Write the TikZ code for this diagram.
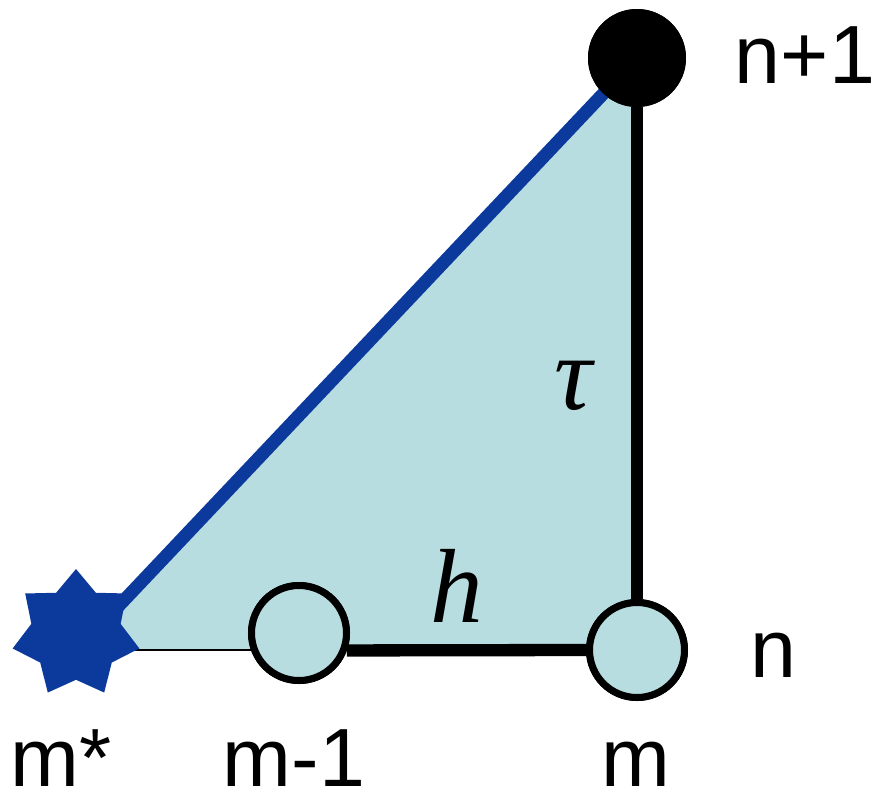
\documentclass[tikz,border=0pt]{standalone}
\usepackage{fontspec}
\setmainfont{Liberation Sans}
\newfontfamily\mathserif{Liberation Serif}
\usetikzlibrary{shapes.geometric}
\definecolor{fillblue}{RGB}{183,221,225}
\definecolor{darkblue}{RGB}{12,58,156}
\tikzset{
  lbl/.style={font=\fontsize{47}{50}\selectfont, anchor=base, inner sep=0pt},
  mlbl/.style={font=\fontsize{60}{64}\selectfont\mathserif\itshape, inner sep=0pt},
  opencirc/.style={circle, draw=black, line width=4pt, fill=fillblue, minimum size=1.9cm, inner sep=0pt},
  solidcirc/.style={circle, fill=black, minimum size=1.96cm, inner sep=0pt},
}
\begin{document}
\begin{tikzpicture}[x=0.02cm, y=-0.02cm]
\useasboundingbox (0,0) rectangle (877,795);
\coordinate (base) at (77,650);
\coordinate (top) at (637,58);
\coordinate (corner) at (637,650);
% filled triangle
\fill[fillblue] (base) -- (top) -- (corner) -- cycle;
% thin base line
\draw[line width=1.2pt, black] (base) -- (299,650);
% nodes
\node[star, star points=7, star point ratio=1.42, fill=darkblue, minimum size=2.6cm, inner sep=0pt] (mstar) at (76,634) {};
\node[opencirc] (mm1) at (299,633) {};
\node[opencirc] (m) at (637,650) {};
\node[solidcirc] (np1) at (637,58) {};
% edges
\draw[line width=7.4pt, darkblue] (base) -- (np1.center);
\draw[line width=6.3pt, black] (np1) -- (m);
\draw[line width=7pt, black] (mm1.-20) -- (m.west);
% redraw circles on top
\node[opencirc] at (299,633) {};
\node[opencirc] at (637,650) {};
\node[solidcirc] at (637,58) {};
% labels
\node[lbl] (lnp1) at (805,83) {n+1};
\node[lbl] (ln) at (773,677) {n};
\node[lbl] (lm) at (636,786) {m};
\node[lbl] (lmstar) at (61,786) {m*};
\node[lbl] (lmm1) at (294,786) {m-1};
\node[mlbl] (tau) at (573,386) {τ};
\node[mlbl] (h) at (457,586) {h};
\end{tikzpicture}
\end{document}
